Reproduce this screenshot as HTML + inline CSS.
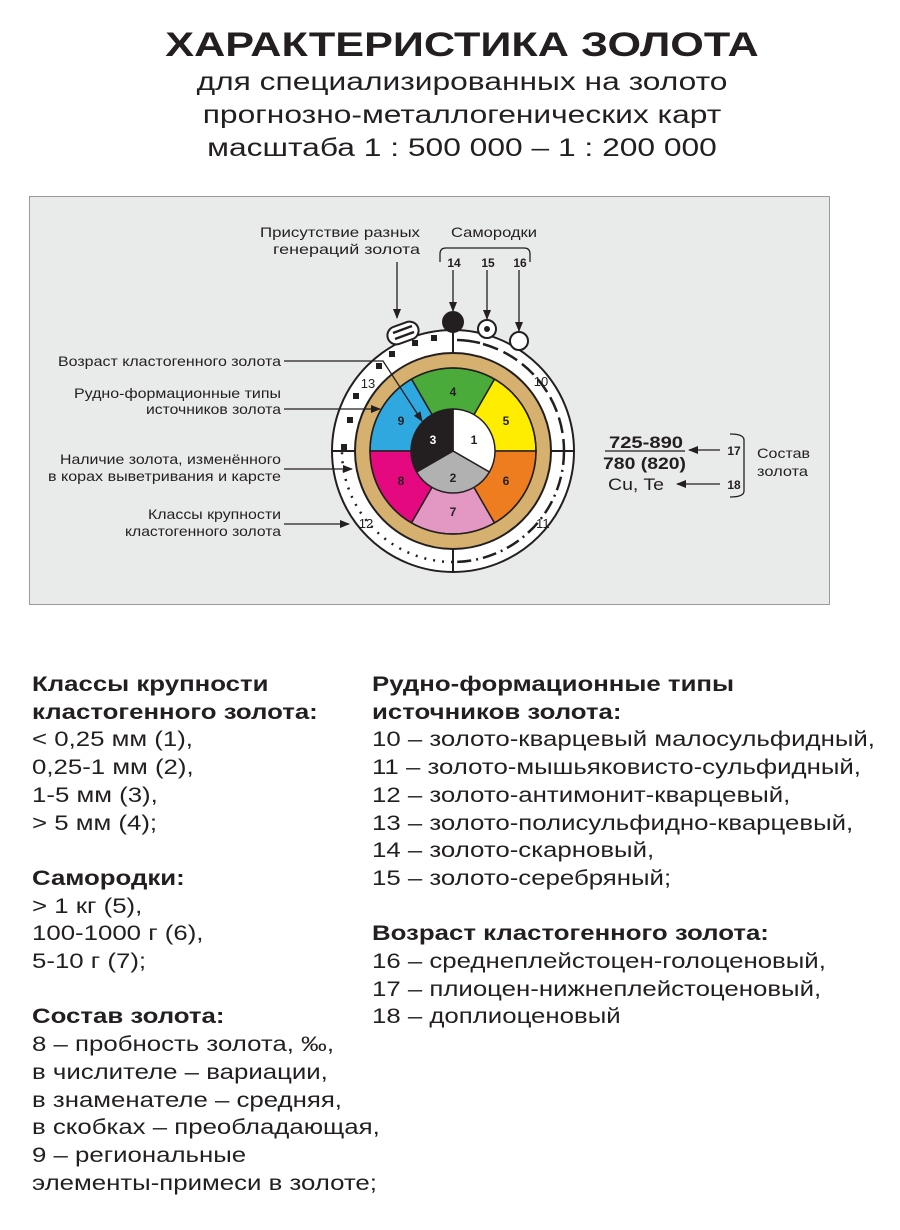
<!DOCTYPE html>
<html><head><meta charset="utf-8"><style>
html,body{margin:0;padding:0;background:#fff;}
body{width:900px;height:1230px;position:relative;overflow:hidden;font-family:"Liberation Sans",Arial,sans-serif;color:#231f20;}
.t{position:absolute;white-space:nowrap;}
.h{font-weight:bold;}
.col{position:absolute;font-size:21.5px;line-height:27.7px;white-space:nowrap;transform:scaleX(1.2);transform-origin:0 0;}
</style></head><body>
<div class="t h" style="left:0;width:924px;text-align:center;top:26px;font-size:34px;transform:scaleX(1.27);transform-origin:462px 0;">ХАРАКТЕРИСТИКА ЗОЛОТА</div>
<div class="t" style="left:0;width:924px;text-align:center;top:66px;font-size:25px;line-height:33px;transform:scaleX(1.27);transform-origin:462px 0;">для специализированных на золото<br>прогнозно-металлогенических карт<br>масштаба 1 : 500 000 – 1 : 200 000</div>

<svg style="position:absolute;left:0;top:0" width="900" height="640" font-family="Liberation Sans, Arial, sans-serif">
<defs><marker id="a" markerWidth="10" markerHeight="8" refX="9" refY="4" orient="auto" markerUnits="userSpaceOnUse"><path d="M0,0 L10,4 L0,8z" fill="#231f20"/></marker></defs>
<rect x="29.5" y="196.5" width="800" height="408" fill="#e9eaea" stroke="#9a9a9a"/>
<g stroke="#231f20" stroke-width="2">
<circle cx="453" cy="451" r="121" fill="#fff"/>
<line x1="453" y1="330" x2="453" y2="353"/><line x1="453" y1="549" x2="453" y2="572"/>
<line x1="332" y1="451" x2="355" y2="451"/><line x1="551" y1="451" x2="574" y2="451"/>
<circle cx="453" cy="451" r="98" fill="#d5b06e"/>
</g>
<g stroke="#231f20" stroke-width="1.5">
<path d="M453,451 L536,451 A83,83 0 0 0 494.5,379.1Z" fill="#ffed00"/>
<path d="M453,451 L494.5,379.1 A83,83 0 0 0 411.5,379.1Z" fill="#4aaa3a"/>
<path d="M453,451 L411.5,379.1 A83,83 0 0 0 370,451Z" fill="#2fa8e0"/>
<path d="M453,451 L370,451 A83,83 0 0 0 411.5,522.9Z" fill="#e4097f"/>
<path d="M453,451 L411.5,522.9 A83,83 0 0 0 494.5,522.9Z" fill="#e397c3"/>
<path d="M453,451 L494.5,522.9 A83,83 0 0 0 536,451Z" fill="#ee7d1f"/>
<circle cx="453" cy="451" r="83" fill="none"/>
<path d="M453,451 L453,409 A42,42 0 0 1 489.4,472Z" fill="#fff"/>
<path d="M453,451 L489.4,472 A42,42 0 0 1 416.6,472Z" fill="#b1b1b1"/>
<path d="M453,451 L416.6,472 A42,42 0 0 1 453,409Z" fill="#231f20"/>
</g>
<g fill="none" stroke="#231f20" stroke-width="2.5">
<path d="M457,340 A111,111 0 0 1 480,343" />
<path d="M483,344 A111,111 0 0 1 564,451" stroke-dasharray="16,6"/>
<path d="M564,451 A111,111 0 0 1 453,562" stroke-dasharray="14,5,2,5"/>
<path d="M453,562 A111,111 0 0 1 342,451" stroke-dasharray="2,7"/>
</g>
<g fill="#231f20">
<rect x="431" y="335" width="6" height="6"/><rect x="412" y="340" width="6" height="6"/><rect x="389" y="351" width="6" height="6"/>
<rect x="376" y="363" width="6" height="6"/><rect x="353" y="393" width="6" height="6"/><rect x="347" y="417" width="6" height="6"/><rect x="341" y="444" width="6" height="6"/>
</g>
<g stroke="#231f20" stroke-width="2">
<rect x="387" y="324" width="32" height="18" rx="9" fill="#fff" transform="rotate(-20 403 333)"/>
<line x1="393" y1="333" x2="412" y2="326" stroke-width="2.5"/><line x1="395" y1="339" x2="414" y2="332" stroke-width="2.5"/>
<circle cx="453" cy="322" r="10" fill="#231f20"/>
<circle cx="487" cy="329" r="9" fill="#fff"/><circle cx="487" cy="329" r="3" fill="#231f20" stroke="none"/>
<circle cx="519" cy="341" r="9" fill="#fff"/>
</g>
<g stroke="#231f20" stroke-width="1.3" fill="none">
<line x1="397" y1="262" x2="397" y2="318" marker-end="url(#a)"/>
<line x1="453" y1="270" x2="453" y2="311" marker-end="url(#a)"/>
<line x1="487" y1="270" x2="487" y2="319" marker-end="url(#a)"/>
<line x1="519" y1="270" x2="519" y2="331" marker-end="url(#a)"/>
<path d="M440,262 V254 Q440,248 446,248 H524 Q530,248 530,254 V262"/>
<polyline points="284,361 383,361 422,421" marker-end="url(#a)"/>
<line x1="284" y1="409" x2="380" y2="409" marker-end="url(#a)"/>
<line x1="284" y1="469" x2="352" y2="469" marker-end="url(#a)"/>
<line x1="284" y1="524" x2="349" y2="524" marker-end="url(#a)"/>
<line x1="720" y1="450" x2="689" y2="450" marker-end="url(#a)"/>
<line x1="720" y1="484" x2="677" y2="484" marker-end="url(#a)"/>
<path d="M730,434 Q744,434 744,440 V491 Q744,497 730,497"/>
<line x1="605" y1="451" x2="685" y2="451"/>
</g>
<g font-size="12" font-weight="bold" fill="#231f20" text-anchor="middle">
<text x="453" y="396">4</text><text x="506" y="425">5</text><text x="401" y="425">9</text>
<text x="401" y="485">8</text><text x="506" y="485">6</text><text x="453" y="516">7</text>
<text x="474" y="444">1</text><text x="453" y="482">2</text><text x="433" y="444" fill="#fff">3</text>
<text x="454" y="267">14</text><text x="488" y="267">15</text><text x="520" y="267">16</text>
<text x="734" y="455">17</text><text x="734" y="489">18</text>
</g>
<g font-size="13" fill="#231f20" text-anchor="middle">
<text x="541" y="386">10</text><text x="541" y="528">.11</text><text x="366" y="528">12</text><text x="368" y="388">13</text>
</g>
<g font-size="14" fill="#231f20" lengthAdjust="spacingAndGlyphs">
<text x="260" y="237" textLength="160" lengthAdjust="spacingAndGlyphs">Присутствие разных</text>
<text x="273" y="254" textLength="147" lengthAdjust="spacingAndGlyphs">генераций золота</text>
<text x="58" y="366" textLength="223" lengthAdjust="spacingAndGlyphs">Возраст кластогенного золота</text>
<text x="74" y="398" textLength="207" lengthAdjust="spacingAndGlyphs">Рудно-формационные типы</text>
<text x="146" y="414" textLength="135" lengthAdjust="spacingAndGlyphs">источников золота</text>
<text x="60" y="464" textLength="221" lengthAdjust="spacingAndGlyphs">Наличие золота, изменённого</text>
<text x="48" y="481" textLength="233" lengthAdjust="spacingAndGlyphs">в корах выветривания и карсте</text>
<text x="148" y="519" textLength="133" lengthAdjust="spacingAndGlyphs">Классы крупности</text>
<text x="125" y="536" textLength="156" lengthAdjust="spacingAndGlyphs">кластогенного золота</text>
<text x="451" y="237" textLength="86" lengthAdjust="spacingAndGlyphs">Самородки</text>
<text x="757" y="458" textLength="53" lengthAdjust="spacingAndGlyphs">Состав</text>
<text x="757" y="476" textLength="51" lengthAdjust="spacingAndGlyphs">золота</text>
</g>
<g font-size="17" fill="#231f20">
<text x="609" y="448" font-weight="bold" textLength="74" lengthAdjust="spacingAndGlyphs">725-890</text>
<text x="603" y="469" font-weight="bold" textLength="83" lengthAdjust="spacingAndGlyphs">780 (820)</text>
<text x="608" y="490" textLength="56" lengthAdjust="spacingAndGlyphs">Cu, Te</text>
</g>
</svg>

<div class="col" style="left:32px;top:671px;"><b>Классы крупности<br>кластогенного золота:</b><br>&lt; 0,25 мм (1),<br>0,25-1 мм (2),<br>1-5 мм (3),<br>&gt; 5 мм (4);<br><br><b>Самородки:</b><br>&gt; 1 кг (5),<br>100-1000 г (6),<br>5-10 г (7);<br><br><b>Состав золота:</b><br>8 – пробность золота, ‰,<br>в числителе – вариации,<br>в знаменателе – средняя,<br>в скобках – преобладающая,<br>9 – региональные<br>элементы-примеси в золоте;</div>
<div class="col" style="left:372px;top:671px;"><b>Рудно-формационные типы<br>источников золота:</b><br>10 – золото-кварцевый малосульфидный,<br>11 – золото-мышьяковисто-сульфидный,<br>12 – золото-антимонит-кварцевый,<br>13 – золото-полисульфидно-кварцевый,<br>14 – золото-скарновый,<br>15 – золото-серебряный;<br><br><b>Возраст кластогенного золота:</b><br>16 – среднеплейстоцен-голоценовый,<br>17 – плиоцен-нижнеплейстоценовый,<br>18 – доплиоценовый</div>
</body></html>
